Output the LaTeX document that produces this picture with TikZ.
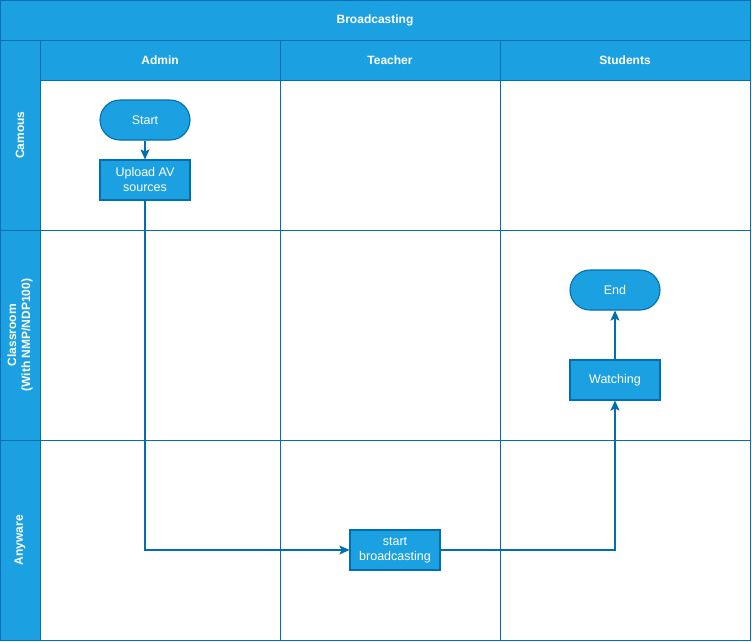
\documentclass[tikz,border=0pt]{standalone}
\usepackage{fontspec}
\setmainfont{Liberation Sans}
\usetikzlibrary{arrows.meta}
\definecolor{lanefill}{HTML}{1BA1E2}
\definecolor{lanestroke}{HTML}{006EAF}
\tikzset{
  lane/.style={draw=lanestroke, line width=1pt},
  hdr/.style={text=white, font=\fontsize{12}{14}\selectfont\bfseries, inner sep=0pt},
  box/.style={draw=lanestroke, fill=lanefill, line width=1.1pt, text=white,
    minimum width=90pt, minimum height=40pt, inner sep=2pt, align=center,
    font=\fontsize{12.5}{15}\selectfont},
  term/.style={box, rounded corners=20pt},
  conn/.style={draw=lanestroke, line width=1.1pt, -{Stealth[length=10pt,width=9pt,inset=2pt]}}
}
\begin{document}
\begin{tikzpicture}[x=1pt,y=-1pt]
\useasboundingbox (0,0) rectangle (752,641);
% background
\fill[lanefill] (0,0) rectangle (750,640);
\fill[white] (40,80) rectangle (750,640);
% lines
\draw[lane] (0,0) rectangle (750,640);
\draw[lane] (0,40) -- (750,40);
\draw[lane] (40,80) -- (750,80);
\draw[lane] (40,40) -- (40,640);
\draw[lane] (0,230) -- (750,230);
\draw[lane] (0,440) -- (750,440);
\draw[lane] (280,40) -- (280,640);
\draw[lane] (500,40) -- (500,640);
% headers
\node[hdr] (title) at (375,20) {Broadcasting};
\node[hdr] (hadmin) at (160,60) {Admin};
\node[hdr] (hteacher) at (390,60) {Teacher};
\node[hdr] (hstudents) at (625,60) {Students};
\node[hdr, rotate=90] (r1) at (20,135) {Camous};
\node[hdr, rotate=90, align=center] (r2) at (20,335) {Classroom\\(With NMP/NDP100)};
\node[hdr, rotate=90] (r3) at (20,540) {Anyware};
% nodes
\node[term] (start) at (145,120) {Start};
\node[box] (upload) at (145,180) {Upload AV\\sources};
\node[box] (sb) at (395,550) {start\\broadcasting};
\node[box] (watch) at (615,380) {Watching};
\node[term] (end) at (615,290) {End};
% connectors
\draw[conn] (start) -- (upload);
\draw[conn] (upload.south) |- (sb.west);
\draw[conn] (sb.east) -| (watch.south);
\draw[conn] (watch) -- (end);
\end{tikzpicture}
\end{document}
